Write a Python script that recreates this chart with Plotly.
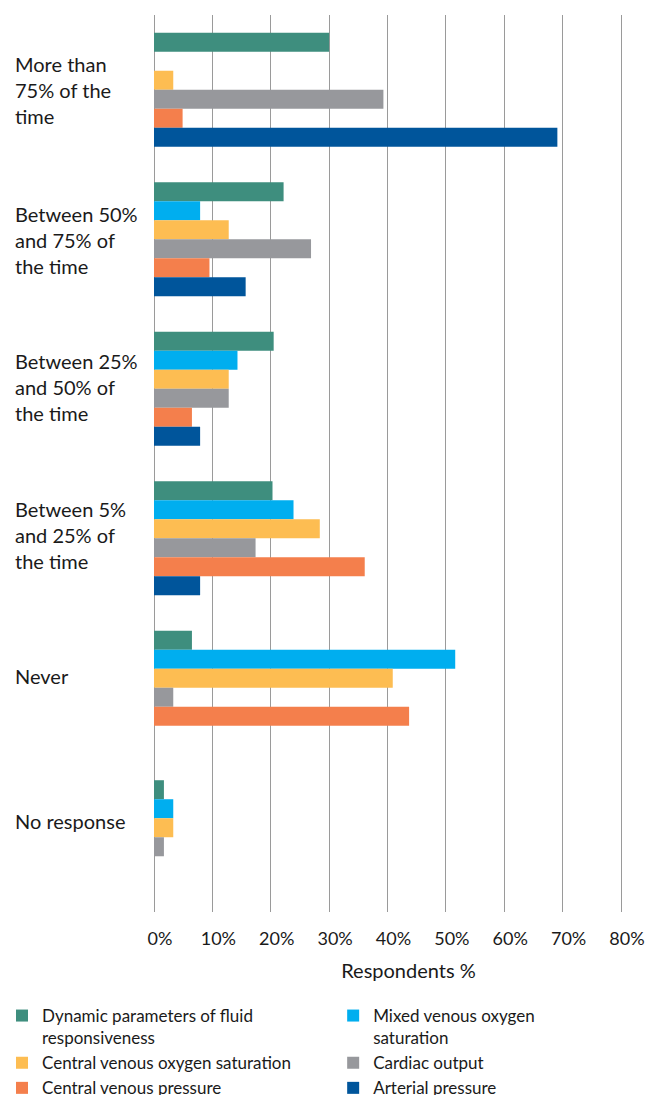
import plotly.graph_objects as go

categories = [
    "More than<br>75% of the<br>time",
    "Between 50%<br>and 75% of<br>the time",
    "Between 25%<br>and 50% of<br>the time",
    "Between 5%<br>and 25% of<br>the time",
    "Never",
    "No response",
]

series_names = [
    "Dynamic parameters of fluid<br>responsiveness",
    "Mixed venous oxygen<br>saturation",
    "Central venous oxygen saturation",
    "Cardiac output",
    "Central venous pressure",
    "Arterial pressure",
]

dynamic = [30.0, 22.2, 20.5, 20.3, 6.5, 1.7]
mixed_venous = [0.0, 7.9, 14.3, 23.9, 51.6, 3.3]
cv_oxygen = [3.3, 12.8, 12.8, 28.4, 40.9, 3.3]
cardiac_output = [39.3, 26.9, 12.8, 17.4, 3.3, 1.7]
cv_pressure = [4.9, 9.5, 6.5, 36.1, 43.7, 0.0]
arterial = [69.1, 15.7, 7.9, 7.9, 0.0, 0.0]

series_values = [dynamic, mixed_venous, cv_oxygen, cardiac_output, cv_pressure, arterial]
colors = ["#3E8E7E", "#00AEEF", "#FDBD52", "#97989C", "#F47F4C", "#00559B"]

tick_vals = [0, 10, 20, 30, 40, 50, 60, 70, 80]
tick_text = ["0%", "10%", "20%", "30%", "40%", "50%", "60%", "70%", "80%"]

FONT = "Lato"
TEXT_COLOR = "#1a1a1a"
GRID = "#9a9a9a"
# small vertical nudges of the category labels (pixels, style only)
label_shift = [0, -1, 2, 3, 12, 16]

# layout geometry (pixels)
W, H = 663, 1095
ML, MT, MB = 154, 15, 183
PLOT_W = W - ML                 # plot area runs to the right edge
PX_PER_UNIT = 467 / 80.0        # 0..80 % spans 467 px as in the reference
X_MAX = PLOT_W / PX_PER_UNIT
PLOT_H = H - MT - MB

fig = go.Figure()
for name, vals, col in zip(series_names, series_values, colors):
    fig.add_trace(go.Bar(
        y=categories, x=vals, name=name, orientation="h",
        marker=dict(color=col, line=dict(width=0)),
    ))

for cat, sh in zip(categories, label_shift):
    fig.add_annotation(
        x=(13 - ML) / PLOT_W, xref="paper", y=cat, yref="y", yshift=sh,
        text=cat, showarrow=False, xanchor="left", yanchor="middle",
        align="left", font=dict(family=FONT, size=20, color=TEXT_COLOR),
    )

fig.update_layout(
    width=W, height=H,
    margin=dict(l=ML, r=0, t=MT, b=MB, autoexpand=False),
    paper_bgcolor="white", plot_bgcolor="white",
    barmode="group", bargap=0.237, bargroupgap=0,
    font=dict(family=FONT, color=TEXT_COLOR),
    xaxis=dict(
        range=[0, X_MAX], tickvals=tick_vals, ticktext=tick_text,
        showgrid=True, gridcolor=GRID, gridwidth=1.3,
        zeroline=True, zerolinecolor=GRID, zerolinewidth=1.3,
        showline=False,
        tickfont=dict(family=FONT, size=18, color=TEXT_COLOR),
        ticklabelstandoff=14, ticklabelshift=6,
        title=dict(text="Respondents %", font=dict(family=FONT, size=20, color=TEXT_COLOR), standoff=15),
        fixedrange=True,
    ),
    yaxis=dict(
        autorange="reversed", showticklabels=False, showgrid=False,
        zeroline=False, showline=False, ticks="",
    ),
    legend=dict(
        orientation="h", xref="paper", yref="paper",
        x=-(ML - 2) / PLOT_W, y=-(998 - (MT + PLOT_H)) / PLOT_H,
        xanchor="left", yanchor="top",
        entrywidth=0.4995, entrywidthmode="fraction", valign="top",
        font=dict(family=FONT, size=17, color=TEXT_COLOR),
        traceorder="normal", itemclick=False,
    ),
    showlegend=True,
)

fig.write_html("out.html")
